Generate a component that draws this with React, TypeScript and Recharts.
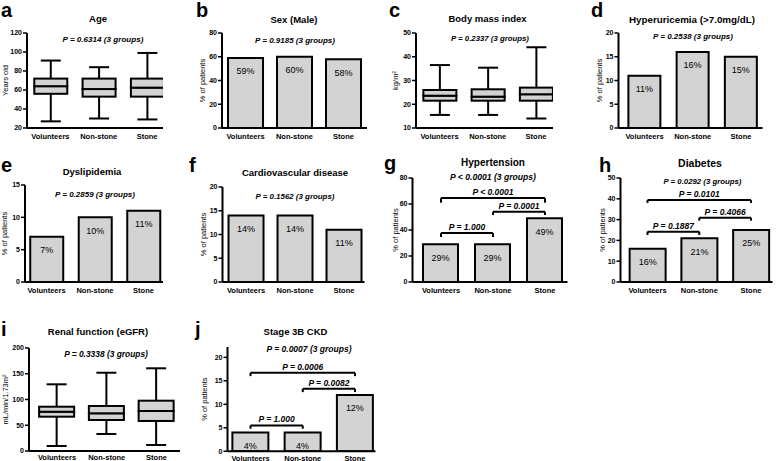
import { BarChart, Bar, XAxis, YAxis, ReferenceLine, LabelList } from "recharts";

const FONT = '"Liberation Sans", Arial, sans-serif';
const BAR_FILL = "#d3d3d3";

const groups = ["Volunteers", "Non-stone", "Stone"];

// box plots: [min, q1, median, q3, max] per group
const ageStats = [[27, 56, 64, 72, 91], [30, 53, 61, 72, 84], [29, 53, 62.5, 72, 99]];
const bmiStats = [[15.5, 21.5, 23.6, 26, 36.5], [15.5, 21.5, 23.2, 26.3, 35.4], [14, 21.5, 24.2, 27, 44]];
const egfrStats = [[9.7, 66.6, 76.3, 86, 129.5], [33, 60.2, 73.2, 87.4, 152], [11.7, 58.3, 77.7, 97.7, 160.6]];

// % of patients
const sexMale = [59, 60, 58];
const hyperuricemia = [11, 16, 15];
const dyslipidemia = [7, 10, 11];
const cardiovascular = [14, 14, 11];
const hypertension = [29, 29, 49];
const diabetes = [16, 21, 25];
const ckd3b = [4, 4, 12];

// pairwise tests: Volunteers vs Non-stone, Non-stone vs Stone, Volunteers vs Stone
const hypertensionPairs = ["P = 1.000", "P = 0.0001", "P < 0.0001"];
const diabetesPairs = ["P = 0.1887", "P = 0.4066", "P = 0.0101"];
const ckdPairs = ["P = 1.000", "P = 0.0082", "P = 0.0006"];

const pairIdx = [[1, 2], [2, 3], [1, 3]];

const panels: any[] = [
  { letter: "a", lp: [1, 0], kind: "box", stats: ageStats, title: "Age", tp: [98, 19], p: "P = 0.6314 (3 groups)", pp: [103, 40], ps: 8.1,
    yLabel: "Years old", labelX: 5, x0: 27, x1: 163, yTop: 33, yBot: 128, domain: [20, 120], ticks: [20, 40, 60, 80, 100, 120], xd: [0.515, 3.33], bw: 33 },
  { letter: "b", lp: [196, 0], kind: "bar", values: sexMale, title: "Sex (Male)", tp: [294, 20], p: "P = 0.9185 (3 groups)", pp: [295, 40.7], ps: 8,
    yLabel: "% of patients", labelX: 202, x0: 222, x1: 367, yTop: 33, yBot: 128, domain: [0, 80], ticks: [0, 20, 40, 60, 80], xd: [0.52, 3.48], bw: 35 },
  { letter: "c", lp: [389, 0], kind: "box", stats: bmiStats, title: "Body mass index", tp: [487.5, 19], p: "P = 0.2337 (3 groups)", pp: [490, 39], ps: 7.8,
    yLabel: "kg/m²", labelX: 395, x0: 416, x1: 553, yTop: 33, yBot: 128, domain: [10, 50], ticks: [10, 20, 30, 40, 50], xd: [0.513, 3.352], bw: 33 },
  { letter: "d", lp: [591, 0], kind: "bar", values: hyperuricemia, title: "Hyperuricemia (>7.0mg/dL)", ts: 9.8, tp: [692, 20], p: "P = 0.2538 (3 groups)", pp: [693, 37], ps: 8,
    yLabel: "% of patients", labelX: 598.5, x0: 618, x1: 762, yTop: 33, yBot: 128, domain: [0, 20], ticks: [0, 5, 10, 15, 20], xd: [0.461, 3.446], bw: 32 },
  { letter: "e", lp: [1, 155], kind: "bar", values: dyslipidemia, title: "Dyslipidemia", tp: [92, 172], p: "P = 0.2859 (3 groups)", pp: [95, 195], ps: 8,
    yLabel: "% of patients", labelX: 4, x0: 25, x1: 163, yTop: 185, yBot: 282, domain: [0, 15], ticks: [0, 5, 10, 15], xd: [0.557, 3.402], bw: 33 },
  { letter: "f", lp: [189, 155], kind: "bar", values: cardiovascular, title: "Cardiovascular disease", tp: [295, 173], p: "P = 0.1562 (3 groups)", pp: [295, 197], ps: 7.9,
    yLabel: "% of patients", labelX: 202.5, x0: 222, x1: 364, yTop: 187, yBot: 282, domain: [0, 20], ticks: [0, 5, 10, 15, 20], xd: [0.52, 3.418], bw: 35 },
  { letter: "g", lp: [384, 153], kind: "bar", values: hypertension, title: "Hypertension", ts: 10, tp: [493, 163], p: "P < 0.0001 (3 groups)", pp: [493, 177], ps: 8.6,
    yLabel: "% of patients", labelX: 394.5, x0: 412, x1: 567, yTop: 178, yBot: 282, domain: [0, 80], ticks: [0, 20, 40, 60, 80], xd: [0.452, 3.433], bw: 35,
    pairs: hypertensionPairs, levels: [[37.7, 34.6], [54, 51.5], [64.6, 61]] },
  { letter: "h", lp: [599, 155], kind: "bar", values: diabetes, title: "Diabetes", ts: 10.5, tp: [700, 163], p: "P = 0.0292 (3 groups)", pp: [702.5, 181.7], ps: 7.8,
    yLabel: "% of patients", labelX: 601.5, x0: 620, x1: 772, yTop: 178, yBot: 282, domain: [0, 50], ticks: [0, 10, 20, 30, 40, 50], xd: [0.478, 3.415], bw: 36,
    pairs: diabetesPairs, levels: [[24.2, 22.6], [30.9, 29.5], [39.4, 38]] },
  { letter: "i", lp: [1, 319], kind: "box", stats: egfrStats, title: "Renal function (eGFR)", tp: [98, 332], p: "P = 0.3338 (3 groups)", pp: [106, 354], ps: 8.4,
    yLabel: "mL/min/1.73m²", labelX: 5, x0: 29, x1: 180, yTop: 348, yBot: 451, domain: [0, 200], ticks: [0, 50, 100, 150, 200], xd: [0.437, 3.472], bw: 35, tm: 0 },
  { letter: "j", lp: [195, 319], kind: "bar", values: ckd3b, title: "Stage 3B CKD", tp: [295.5, 332], p: "P = 0.0007 (3 groups)", pp: [309, 349.3], ps: 8.5,
    yLabel: "% of patients", labelX: 203.5, x0: 227, x1: 375, yTop: 346.7, yBot: 451, domain: [0, 22.2], ticks: [0, 5, 10, 15, 20], xd: [0.56, 3.392], bw: 36, tm: 0,
    pairs: ckdPairs, levels: [[5.5, 4.8], [13.3, 12.6], [16.7, 16]] },
];

const Txt = ({ x, y, size, bold, italic, children }: any) => (
  <div
    style={{
      position: "absolute", left: x, top: y, transform: "translate(-50%, -50%)",
      whiteSpace: "nowrap", fontFamily: FONT, fontSize: size, lineHeight: 1,
      fontWeight: bold ? 700 : 400, fontStyle: italic ? "italic" : "normal", color: "#000",
    }}
  >
    {children}
  </div>
);

const boxShape = (s: any) => (
  <rect x={s.x} y={s.y} width={s.width} height={s.height} fill={BAR_FILL} stroke="#000" strokeWidth={2} />
);

const whiskerShape = (cap: number, atTop: boolean) => (s: any) => {
  const cx = s.x + s.width / 2;
  const yc = atTop ? s.y : s.y + s.height;
  return (
    <g>
      <line x1={cx} x2={cx} y1={s.y} y2={s.y + s.height} stroke="#000" strokeWidth={2} />
      <line x1={cx - cap / 2} x2={cx + cap / 2} y1={yc} y2={yc} stroke="#000" strokeWidth={2} />
    </g>
  );
};

function Panel({ p }: any) {
  const L = p.labelX - 5;
  const mt = 5;
  const xh = 22;
  const W = p.x1 - L + 2;
  const H = p.yBot - p.yTop + mt + xh;

  const data = groups.map((g, i) => {
    if (p.kind === "box") {
      const s = p.stats[i];
      return { x: i + 1, name: g, base: s[0], lw: s[1] - s[0], lb: s[2] - s[1], ub: s[3] - s[2], uw: s[4] - s[3] };
    }
    return { x: i + 1, name: g, v: p.values[i] };
  });

  const tickStyle = { fontSize: 7, fontWeight: 700, fill: "#000", fontFamily: FONT };

  return (
    <div style={{ position: "absolute", left: L, top: p.yTop - mt }}>
      <BarChart width={W} height={H} data={data} margin={{ top: mt, right: 2, bottom: 0, left: 0 }}>
        <XAxis
          dataKey="x" type="number" domain={p.xd} ticks={[1, 2, 3]} interval={0} allowDataOverflow
          tickFormatter={(v: number) => groups[v - 1]} tickLine={false} tickSize={4} tickMargin={p.tm ?? 2} height={xh}
          axisLine={{ stroke: "#000", strokeWidth: 2 }}
          tick={{ ...tickStyle, fontSize: 7.5 }}
        />
        <YAxis
          width={p.x0 - L} type="number" domain={p.domain} ticks={p.ticks} interval={0} allowDataOverflow
          axisLine={{ stroke: "#000", strokeWidth: 2 }} tickLine={{ stroke: "#000", strokeWidth: 1.5 }}
          tickSize={4} tickMargin={1} tick={tickStyle}
          label={{ value: p.yLabel, angle: -90, position: "insideLeft", offset: 5, style: { textAnchor: "middle" }, fontSize: 7.5, fill: "#000", fontFamily: FONT }}
        />
        {p.kind === "box" && [
          <Bar key="base" dataKey="base" stackId="s" barSize={p.bw} fill="transparent" isAnimationActive={false} />,
          <Bar key="lw" dataKey="lw" stackId="s" barSize={p.bw} shape={whiskerShape(20, false)} isAnimationActive={false} />,
          <Bar key="lb" dataKey="lb" stackId="s" barSize={p.bw} shape={boxShape} isAnimationActive={false} />,
          <Bar key="ub" dataKey="ub" stackId="s" barSize={p.bw} shape={boxShape} isAnimationActive={false} />,
          <Bar key="uw" dataKey="uw" stackId="s" barSize={p.bw} shape={whiskerShape(20, true)} isAnimationActive={false} />,
        ]}
        {p.kind === "bar" && (
          <Bar dataKey="v" barSize={p.bw} fill={BAR_FILL} stroke="#000" strokeWidth={2} isAnimationActive={false}>
            <LabelList dataKey="v" position="insideTop" offset={10} formatter={(v: any) => `${v}%`} fontSize={9} fill="#000" fontFamily={FONT} />
          </Bar>
        )}
        {p.pairs &&
          p.pairs.map((txt: string, k: number) => {
            const [a, b] = pairIdx[k];
            const [y, d] = p.levels[k];
            return [
              <ReferenceLine key={`h${k}`} segment={[{ x: a, y }, { x: b, y }]} stroke="#000" strokeWidth={2}
                label={{ value: txt, position: "top", offset: 3, fontSize: 8.5, fontWeight: 700, fontStyle: "italic", fill: "#000", fontFamily: FONT }} />,
              <ReferenceLine key={`l${k}`} segment={[{ x: a, y }, { x: a, y: d }]} stroke="#000" strokeWidth={2} />,
              <ReferenceLine key={`r${k}`} segment={[{ x: b, y }, { x: b, y: d }]} stroke="#000" strokeWidth={2} />,
            ];
          })}
      </BarChart>
    </div>
  );
}

export default function App() {
  return (
    <div style={{ position: "absolute", left: 0, top: 0, width: 777, height: 461, background: "#fff", overflow: "hidden" }}>
      {panels.map((p) => (
        <div key={p.letter}>
          <Panel p={p} />
          <div style={{ position: "absolute", left: p.lp[0], top: p.lp[1], fontFamily: FONT, fontWeight: 700, fontSize: 20, lineHeight: 1 }}>
            {p.letter}
          </div>
          <Txt x={p.tp[0]} y={p.tp[1]} size={p.ts ?? 9.5} bold>{p.title}</Txt>
          <Txt x={p.pp[0]} y={p.pp[1]} size={p.ps} bold italic>{p.p}</Txt>
        </div>
      ))}
    </div>
  );
}
